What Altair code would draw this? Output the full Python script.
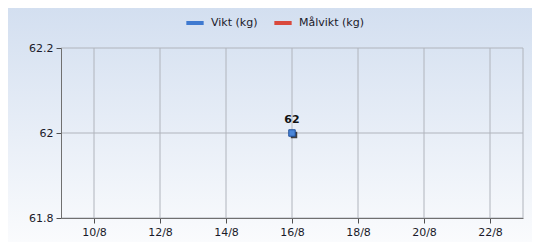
import altair as alt
import pandas as pd

series = ["Vikt (kg)", "Målvikt (kg)"]
colors = ["#3f7ad0", "#d9493d"]
dates = ["2023-08-16T00:00:00"]
vikt = [62]
tick_days = [10, 12, 14, 16, 18, 20, 22]
x_end_day = 23
y_ticks = [61.8, 62, 62.2]

df = pd.DataFrame({"date": dates, "value": vikt, "serie": [series[0]] * len(dates)})
bg = pd.DataFrame({"k": [0]})
xgrid = pd.DataFrame({"date": [f"2023-08-{d:02d}T00:00:00" for d in tick_days + [x_end_day]]})
ygrid = pd.DataFrame({"value": y_ticks})

FONT = "DejaVu Sans"
xdom = [alt.DateTime(year=2023, month=8, date=9), alt.DateTime(year=2023, month=8, date=x_end_day)]
xvals = [alt.DateTime(year=2023, month=8, date=d) for d in tick_days]

xenc = alt.X("date:T", scale=alt.Scale(domain=xdom),
             axis=alt.Axis(values=xvals, format="%-d/%-m", title=None, grid=False, zindex=1,
                           domainColor="#707070", tickColor="#505050",
                           tickSize=5, labelFont=FONT, labelFontSize=11, labelColor="#1a1a2a",
                           labelPadding=3))
yenc = alt.Y("value:Q", scale=alt.Scale(domain=[61.8, 62.2], nice=False, zero=False),
             axis=alt.Axis(values=y_ticks, format=".1~f", title=None, grid=False, zindex=1,
                           domainColor="#707070", tickColor="#505050",
                           tickSize=5, labelFont=FONT, labelFontSize=11, labelColor="#1a1a2a",
                           labelPadding=3))

grad = alt.Gradient(gradient="linear", x1=0, y1=0, x2=0, y2=1,
                    stops=[alt.GradientStop(color="#d3dff0", offset=0),
                           alt.GradientStop(color="#fafbfd", offset=1)])

background = alt.Chart(bg).mark_rect(fill=grad, clip=False).encode(
    x=alt.value(-53), x2=alt.value(471), y=alt.value(-40), y2=alt.value(194))

vgrid = alt.Chart(xgrid).mark_rule(color="#b0b4bc", strokeWidth=1).encode(x="date:T")
hgrid = alt.Chart(ygrid).mark_rule(color="#b0b4bc", strokeWidth=1).encode(y="value:Q")

color = alt.Color("serie:N", scale=alt.Scale(domain=series, range=colors),
                  legend=alt.Legend(orient="none", legendX=123, legendY=-36, direction="horizontal",
                                    title=None, symbolType="stroke", symbolStrokeWidth=4,
                                    symbolSize=300, labelFont=FONT, labelFontSize=11,
                                    labelColor="#1a1a2a", columnPadding=8, labelOffset=5))

line = alt.Chart(df).mark_line(strokeWidth=2).encode(x=xenc, y=yenc, color=color)
shadow = alt.Chart(df).mark_point(shape="square", filled=True, size=42, color="#222222",
                                  xOffset=2, yOffset=2, opacity=0.85).encode(
    x="date:T", y="value:Q")
pts = alt.Chart(df).mark_point(shape="square", filled=True, size=42, fill="#4a86d8",
                               stroke="#1f4f9a", strokeWidth=1, opacity=1).encode(
    x="date:T", y="value:Q")
labels = alt.Chart(df).mark_text(dy=-13, font=FONT, fontSize=11, fontWeight="bold",
                                 color="#111111").encode(x="date:T", y="value:Q",
                                                           text=alt.Text("value:Q", format=".1~f"))

chart = alt.layer(background, vgrid, hgrid, line, shadow, pts, labels).properties(
    width=462, height=170,
    autosize=alt.AutoSizeParams(type="none"),
    padding={"left": 53, "top": 40, "right": 9, "bottom": 24},
    background="#ffffff",
).configure_view(stroke="#a8acb4", strokeWidth=1)

chart.save("out.html", embed_options={"renderer": "svg", "actions": False})
